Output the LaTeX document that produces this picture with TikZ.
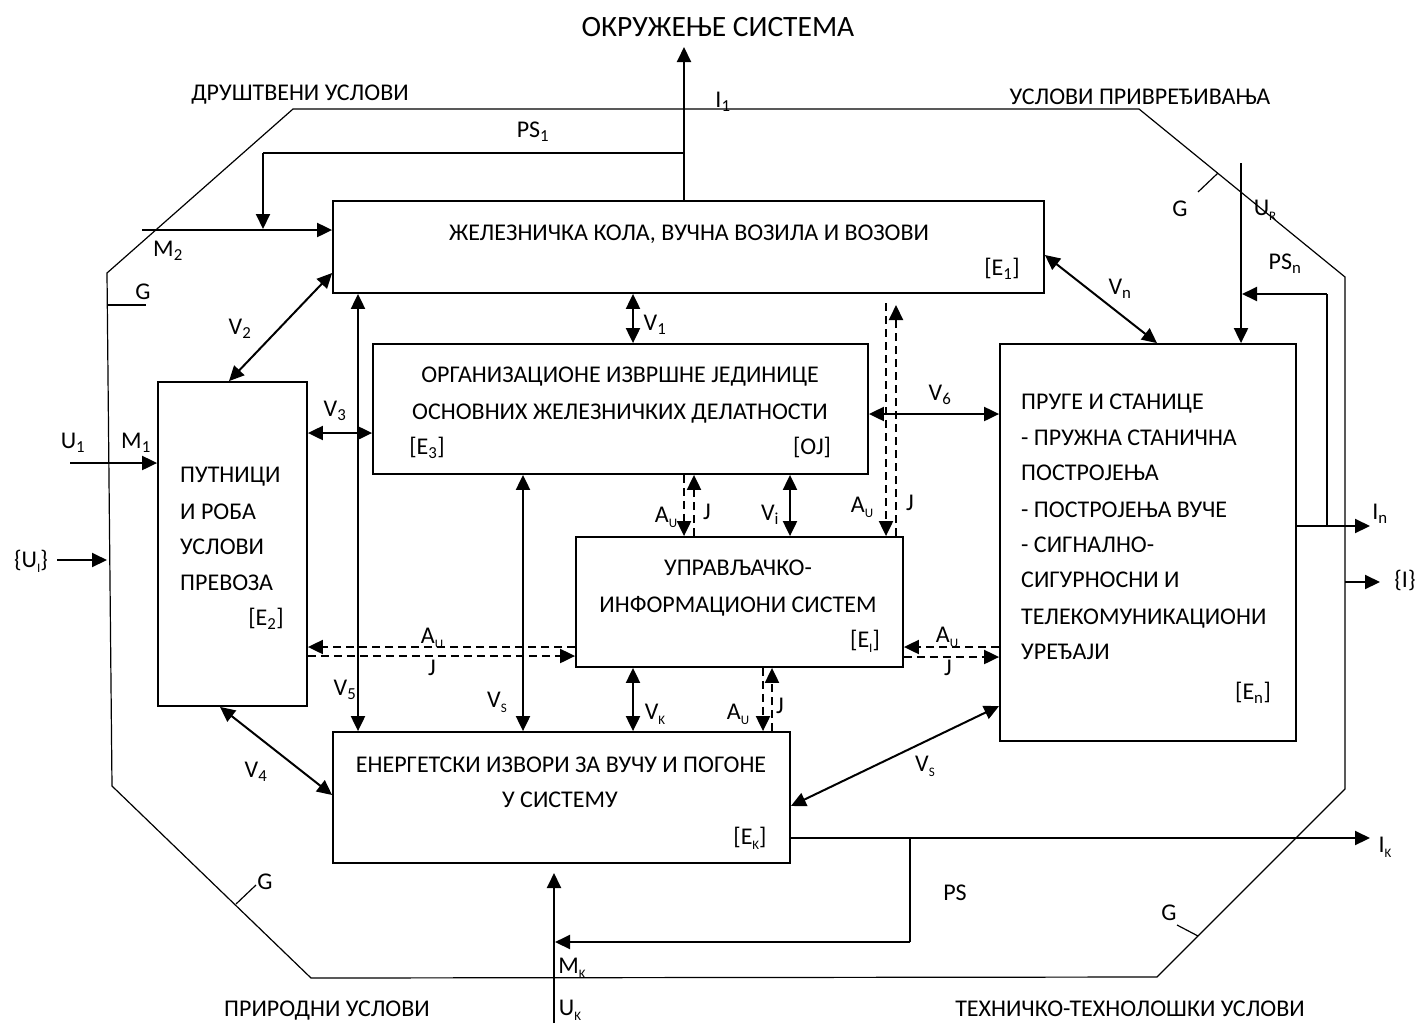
\documentclass[tikz,border=0pt]{standalone}
\usepackage{fontspec}
\setmainfont{Carlito}
\usetikzlibrary{arrows.meta}
\newcommand\dsb[1]{\textsubscript{#1}}
\newcommand\lsb[1]{\raisebox{-0.2em}{\fontsize{13}{13}\selectfont #1}}
\begin{document}
\begin{tikzpicture}[x=1pt,y=-1pt,
  >={Triangle[length=15pt,width=14pt]},
  box/.style={draw, line width=1.8pt, inner sep=0pt},
  arr/.style={line width=2pt, ->},
  darr/.style={line width=2pt, <->},
  dsh/.style={line width=2pt, dash pattern=on 8pt off 5pt},
  thinl/.style={line width=1.2pt},
  txt/.style={font=\fontsize{24}{29}\selectfont, inner sep=0pt, anchor=base, yshift=-7.7pt},
  txtl/.style={txt, anchor=base west},
  ttl/.style={font=\fontsize{29.5}{34}\selectfont, inner sep=0pt, anchor=base, yshift=-9.5pt}
]
\useasboundingbox (0,0) rectangle (1420,1023);
% boundary
\draw[thinl] (293,109) -- (1139,109) -- (1345,277) -- (1345,789) -- (1157,977)
  -- (311,978) -- (112,786) -- (107,273) -- cycle;
\draw[thinl] (107,305) -- (146,305);
\draw[thinl] (1218,173) -- (1198,192);
\draw[thinl] (236,904) -- (256,885);
\draw[thinl] (1177,925) -- (1198,936);

% boxes
\node[box, minimum width=711pt, minimum height=92pt] (E1) at (688.5,247) {};
\node[box, minimum width=495pt, minimum height=130pt] (E3) at (620.5,409) {};
\node[box, minimum width=149pt, minimum height=324pt] (E2) at (232.5,544) {};
\node[box, minimum width=327pt, minimum height=130pt] (EI) at (739.5,602) {};
\node[box, minimum width=296pt, minimum height=397pt] (En) at (1148,542.5) {};
\node[box, minimum width=457pt, minimum height=131pt] (EK) at (561.5,797.5) {};

% box texts
\node[txt] (t1) at (689,233) {ЖЕЛЕЗНИЧКА КОЛА, ВУЧНА ВОЗИЛА И ВОЗОВИ};
\node[txt] (t1b) at (1002,268) {[E\dsb{1}]};
\node[txt] (t3a) at (620,375) {ОРГАНИЗАЦИОНЕ ИЗВРШНЕ ЈЕДИНИЦЕ};
\node[txt] (t3b) at (620,412) {ОСНОВНИХ ЖЕЛЕЗНИЧКИХ ДЕЛАТНОСТИ};
\node[txt] (t3c) at (427,447) {[E\dsb{3}]};
\node[txt] (t3d) at (812,447) {[ОЈ]};
\node[txtl] (t2a) at (180,475) {ПУТНИЦИ};
\node[txtl] (t2b) at (180,512) {И РОБА};
\node[txtl] (t2c) at (180,547) {УСЛОВИ};
\node[txtl] (t2d) at (180,583) {ПРЕВОЗА};
\node[txt] (t2e) at (266,618) {[E\dsb{2}]};
\node[txt] (tia) at (738,568) {УПРАВЉАЧКО-};
\node[txt] (tib) at (738,605) {ИНФОРМАЦИОНИ СИСТЕМ};
\node[txt] (tic) at (865,640) {[E\lsb{I}]};
\node[txtl] (tna) at (1021,402) {ПРУГЕ И СТАНИЦЕ};
\node[txtl] (tnb) at (1021,438) {- ПРУЖНА СТАНИЧНА};
\node[txtl] (tnc) at (1021,473) {ПОСТРОЈЕЊА};
\node[txtl] (tnd) at (1021,510) {- ПОСТРОЈЕЊА ВУЧЕ};
\node[txtl] (tne) at (1021,545) {- СИГНАЛНО-};
\node[txtl] (tnf) at (1021,580) {СИГУРНОСНИ И};
\node[txtl] (tng) at (1021,617) {ТЕЛЕКОМУНИКАЦИОНИ};
\node[txtl] (tnh) at (1021,652) {УРЕЂАЈИ};
\node[txt] (tni) at (1253,692) {[E\dsb{n}]};
\node[txt] (tka) at (561,765) {ЕНЕРГЕТСКИ ИЗВОРИ ЗА ВУЧУ И ПОГОНЕ};
\node[txt] (tkb) at (560,800) {У СИСТЕМУ};
\node[txt] (tkc) at (750,837) {[E\lsb{K}]};

% outer labels
\node[ttl] (title) at (718,27) {ОКРУЖЕЊЕ СИСТЕМА};
\node[txt] (ldr) at (300,93) {ДРУШТВЕНИ УСЛОВИ};
\node[txt] (lpr) at (1140,97) {УСЛОВИ ПРИВРЕЂИВАЊА};
\node[txt] (lpri) at (327,1009) {ПРИРОДНИ УСЛОВИ};
\node[txt] (lteh) at (1130,1009) {ТЕХНИЧКО-ТЕХНОЛОШКИ УСЛОВИ};

% connectors
\coordinate (I1end) at (684,47);
\coordinate (ps1a) at (684,153);
\coordinate (ps1b) at (263,153);
\coordinate (ps1c) at (263,229);
\draw[arr] (E1.north -| I1end) -- (I1end);
\draw[thinl] (ps1a) -- (ps1b);
\draw[arr] (ps1b) -- (ps1c);
\coordinate (m2s) at (142,230);
\draw[arr] (m2s) -- (E1.west |- m2s);
\draw[darr] (E1.west |- 0,273) -- (E2.north -| 229,0);
\draw[darr] (E1.south -| 358,0) -- (EK.north -| 358,0);
\draw[darr] (E2.east |- 0,433) -- (E3.west |- 0,433);
\coordinate (u1s) at (70,463);
\draw[arr] (u1s) -- (E2.west |- u1s);
\coordinate (uis) at (57,560);
\coordinate (uie) at (107,560);
\draw[arr] (uis) -- (uie);
\draw[darr] (E1.south -| 633,0) -- (E3.north -| 633,0);
\draw[darr] (E3.east |- 0,414) -- (En.west |- 0,414);
% dashed E1 - EI
\coordinate (d1a) at (886,303);
\coordinate (d1b) at (896,305);
\draw[dsh, ->] (d1a) -- (EI.north -| d1a);
\draw[dsh, ->] (EI.north -| d1b) -- (d1b);
% dashed E3 - EI
\draw[dsh, ->] (E3.south -| 684,0) -- (EI.north -| 684,0);
\draw[dsh, ->] (EI.north -| 694,0) -- (E3.south -| 694,0);
\draw[darr] (E3.south -| 790,0) -- (EI.north -| 790,0);
% dashed E2 - EI
\draw[dsh, ->] (EI.west |- 0,647) -- (E2.east |- 0,647);
\draw[dsh, ->] (E2.east |- 0,656) -- (EI.west |- 0,656);
% dashed EI - En
\draw[dsh, ->] (En.west |- 0,647) -- (EI.east |- 0,647);
\draw[dsh, ->] (EI.east |- 0,657) -- (En.west |- 0,657);
% EI - EK
\draw[darr] (EI.south -| 633,0) -- (EK.north -| 633,0);
\draw[dsh, ->] (EI.south -| 763,0) -- (EK.north -| 763,0);
\draw[dsh, ->] (EK.north -| 772,0) -- (EI.south -| 772,0);
\draw[darr] (E3.south -| 523,0) -- (EK.north -| 523,0);
\draw[darr] (E2.south -| 220,0) -- (EK.west |- 0,795);
\draw[darr] (En.west |- 0,706) -- (EK.east |- 0,806);
\draw[darr] (E1.east |- 0,255) -- (En.north -| 1157,0);
% right side
\coordinate (urs) at (1241,163);
\draw[arr] (urs) -- (En.north -| urs);
\coordinate (ine) at (1370,526);
\draw[arr] (En.east |- ine) -- (ine);
\coordinate (psna) at (1327,526);
\coordinate (psnb) at (1327,294);
\coordinate (psnc) at (1242,294);
\draw[thinl] (psna) -- (psnb);
\draw[arr] (psnb) -- (psnc);
\coordinate (is) at (1345,582);
\coordinate (ie) at (1380,582);
\draw[arr] (is) -- (ie);
% bottom
\coordinate (ike) at (1370,838);
\draw[arr] (EK.east |- ike) -- (ike);
\coordinate (psa) at (910,838);
\coordinate (psb) at (910,942);
\coordinate (psc) at (555,942);
\draw[thinl] (psa) -- (psb);
\draw[arr] (psb) -- (psc);
\coordinate (uks) at (554,1023);
\coordinate (uke) at (554,873);
\draw[arr] (uks) -- (uke);

% labels
\node[txt] (lI1) at (723,100) {I\dsb{1}};
\node[txt] (lPS1) at (533,130) {PS\dsb{1}};
\node[txt] (lM2) at (168,249) {M\dsb{2}};
\node[txt] (lG1) at (143,292) {G};
\node[txt] (lG2) at (1180,209) {G};
\node[txt] (lG3) at (265,882) {G};
\node[txt] (lG4) at (1169,913) {G};
\node[txt] (lV2) at (240,327) {V\dsb{2}};
\node[txt] (lV1) at (655,323) {V\dsb{1}};
\node[txt] (lVn) at (1120,287) {V\dsb{n}};
\node[txt] (lUR) at (1265,208) {U\lsb{R}};
\node[txt] (lPSn) at (1285,262) {PS\dsb{n}};
\node[txt] (lV3) at (335,409) {V\dsb{3}};
\node[txt] (lU1) at (73,441) {U\dsb{1}};
\node[txt] (lM1) at (136,441) {M\dsb{1}};
\node[txt] (lUI) at (31,560) {\{U\lsb{I}\}};
\node[txt] (lV6) at (940,393) {V\dsb{6}};
\node[txt] (lAU1) at (666,515) {A\lsb{U}};
\node[txt] (lJ1) at (707,512) {J};
\node[txt] (lVi) at (770,513) {V\dsb{i}};
\node[txt] (lAU2) at (862,505) {A\lsb{U}};
\node[txt] (lJ2) at (910,503) {J};
\node[txt] (lIn) at (1380,512) {I\dsb{n}};
\node[txt] (lI) at (1405,580) {\{I\}};
\node[txt] (lAU3) at (432,636) {A\lsb{U}};
\node[txt] (lJ3) at (432,668) {J};
\node[txt] (lAU4) at (947,635) {A\lsb{U}};
\node[txt] (lJ4) at (948,668) {J};
\node[txt] (lV5) at (345,688) {V\dsb{5}};
\node[txt] (lVS1) at (497,700) {V\lsb{S}};
\node[txt] (lVK) at (655,712) {V\lsb{K}};
\node[txt] (lAU5) at (738,712) {A\lsb{U}};
\node[txt] (lJ5) at (780,706) {J};
\node[txt] (lV4) at (256,770) {V\dsb{4}};
\node[txt] (lVS2) at (925,764) {V\lsb{S}};
\node[txt] (lIK) at (1385,845) {I\lsb{K}};
\node[txt] (lPS) at (955,893) {PS};
\node[txt] (lMK) at (572,966) {M\lsb{K}};
\node[txt] (lUK) at (570,1008) {U\lsb{K}};
\end{tikzpicture}
\end{document}
